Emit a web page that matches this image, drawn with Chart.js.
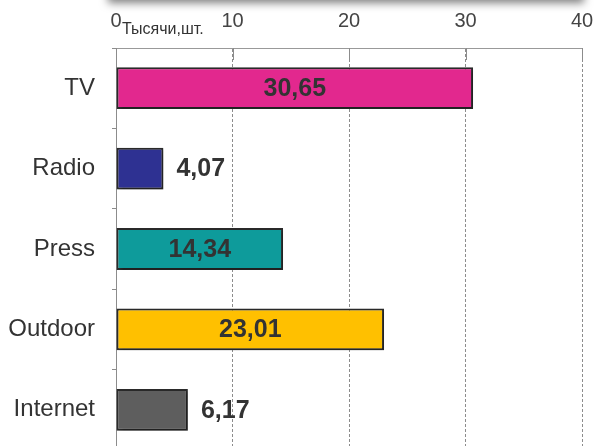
<!DOCTYPE html>
<html>
<head>
<meta charset="utf-8">
<script src="https://cdn.jsdelivr.net/npm/chart.js@4.4.1/dist/chart.umd.min.js"></script>
<style>
  html, body { margin: 0; padding: 0; background: #fff; overflow: hidden; }
  #wrap { position: relative; width: 594px; height: 446px; overflow: hidden; }
  #topbox { position: absolute; left: 108px; top: -20px; width: 476px; height: 20px;
            background: #fff; box-shadow: 0 3px 8px rgba(0,0,0,0.5); }
  #myChart { position: absolute; left: 0; top: 0; }
</style>
</head>
<body>
<div id="wrap">
  <canvas id="myChart" width="594" height="452"></canvas>
  <div id="topbox"></div>
</div>
<script>
// media channels and counts (thousands)
var labels = ['TV', 'Radio', 'Press', 'Outdoor', 'Internet'];
var values = [30.65, 4.07, 14.34, 23.01, 6.17];
var colors = ['#e2288e', '#2e3192', '#0e9b9b', '#ffc000', '#5e5e5e'];
var xTicks = [0, 10, 20, 30, 40];
var unitLabel = 'Тысячи,шт.';

var FONT = '"Liberation Sans", Arial, sans-serif';

function fmt(v){
    return v.toFixed(2).replace('.', ',');
}

// small tick marks hanging down from the top axis + unit caption
var topTicks = {
    id: 'topTicks',
    afterDraw: function(chart){
        var ctx = chart.ctx;
        var x = chart.scales.x;
        ctx.save();
        ctx.strokeStyle = '#8c8c8c';
        ctx.lineWidth = 1;
        x.ticks.forEach(function(t){
            var px = Math.round(x.getPixelForValue(t.value)) + 0.5;
            ctx.beginPath();
            ctx.moveTo(px, x.bottom);
            ctx.lineTo(px, x.bottom + 12);
            ctx.stroke();
        });
        ctx.fillStyle = '#333';
        ctx.font = '16px ' + FONT;
        ctx.textBaseline = 'alphabetic';
        ctx.textAlign = 'left';
        ctx.fillText(unitLabel, x.getPixelForValue(0) + 6, 34);
        ctx.restore();
    }
};

// value labels: inside the bar when it is long, after it when short
var valueLabels = {
    id: 'valueLabels',
    afterDatasetsDraw: function(chart){
        var ctx = chart.ctx;
        var meta = chart.getDatasetMeta(0);
        ctx.save();
        ctx.font = 'bold 25px ' + FONT;
        ctx.fillStyle = '#333';
        ctx.textBaseline = 'middle';
        meta.data.forEach(function(bar, i){
            var v = values[i];
            if (v > 10) {
                ctx.textAlign = 'center';
                ctx.fillText(fmt(v), (bar.base + bar.x) / 2, bar.y + 1);
            } else {
                ctx.textAlign = 'left';
                ctx.fillText(fmt(v), bar.x + 13, bar.y + 1);
            }
        });
        ctx.restore();
    }
};

// soft drop shadow under the bars
var barShadow = {
    id: 'barShadow',
    beforeDatasetsDraw: function(chart){
        var ctx = chart.ctx;
        ctx.save();
        ctx.shadowColor = 'rgba(0,0,0,0.3)';
        ctx.shadowOffsetX = 2;
        ctx.shadowOffsetY = 2;
        ctx.shadowBlur = 3;
    },
    afterDatasetsDraw: function(chart){
        chart.ctx.restore();
    }
};

var ctx = document.getElementById('myChart');
var myChart = new Chart(ctx, {
    type: 'bar',
    data: {
        labels: labels,
        datasets: [{
            data: values,
            backgroundColor: colors,
            borderColor: '#2a2a2a',
            borderWidth: 2,
            borderSkipped: false,
            barPercentage: 0.52,
            categoryPercentage: 1
        }]
    },
    options: {
        indexAxis: 'y',
        responsive: false,
        animation: false,
        layout: { padding: { left: 0, right: 12, top: 0, bottom: 2 } },
        plugins: {
            legend: { display: false },
            tooltip: { enabled: false }
        },
        scales: {
            x: {
                position: 'top',
                min: 0,
                max: 40,
                afterBuildTicks: function(scale){
                    scale.ticks = xTicks.map(function(v){ return { value: v }; });
                },
                afterFit: function(scale){
                    scale.height = 48;
                    scale.paddingLeft = 0;
                    scale.paddingRight = 0;
                },
                ticks: {
                    color: '#444',
                    font: { family: FONT, size: 20 },
                    padding: 15,
                    maxRotation: 0
                },
                grid: {
                    drawTicks: false,
                    color: function(c){ return c.tick && c.tick.value === 0 ? 'rgba(0,0,0,0)' : '#8c8c8c'; },
                    lineWidth: 1
                },
                border: { display: true, color: '#999', dash: [3, 2] }
            },
            y: {
                afterFit: function(scale){
                    scale.width = 116;
                    scale.paddingTop = 0;
                    scale.paddingBottom = 0;
                },
                ticks: {
                    color: '#333',
                    font: { family: FONT, size: 24 },
                    padding: 17
                },
                grid: {
                    offset: true,
                    drawOnChartArea: false,
                    tickLength: 4,
                    color: '#8c8c8c'
                },
                border: { display: true, color: '#8c8c8c' }
            }
        }
    },
    plugins: [barShadow, valueLabels, topTicks]
});
</script>
</body>
</html>
